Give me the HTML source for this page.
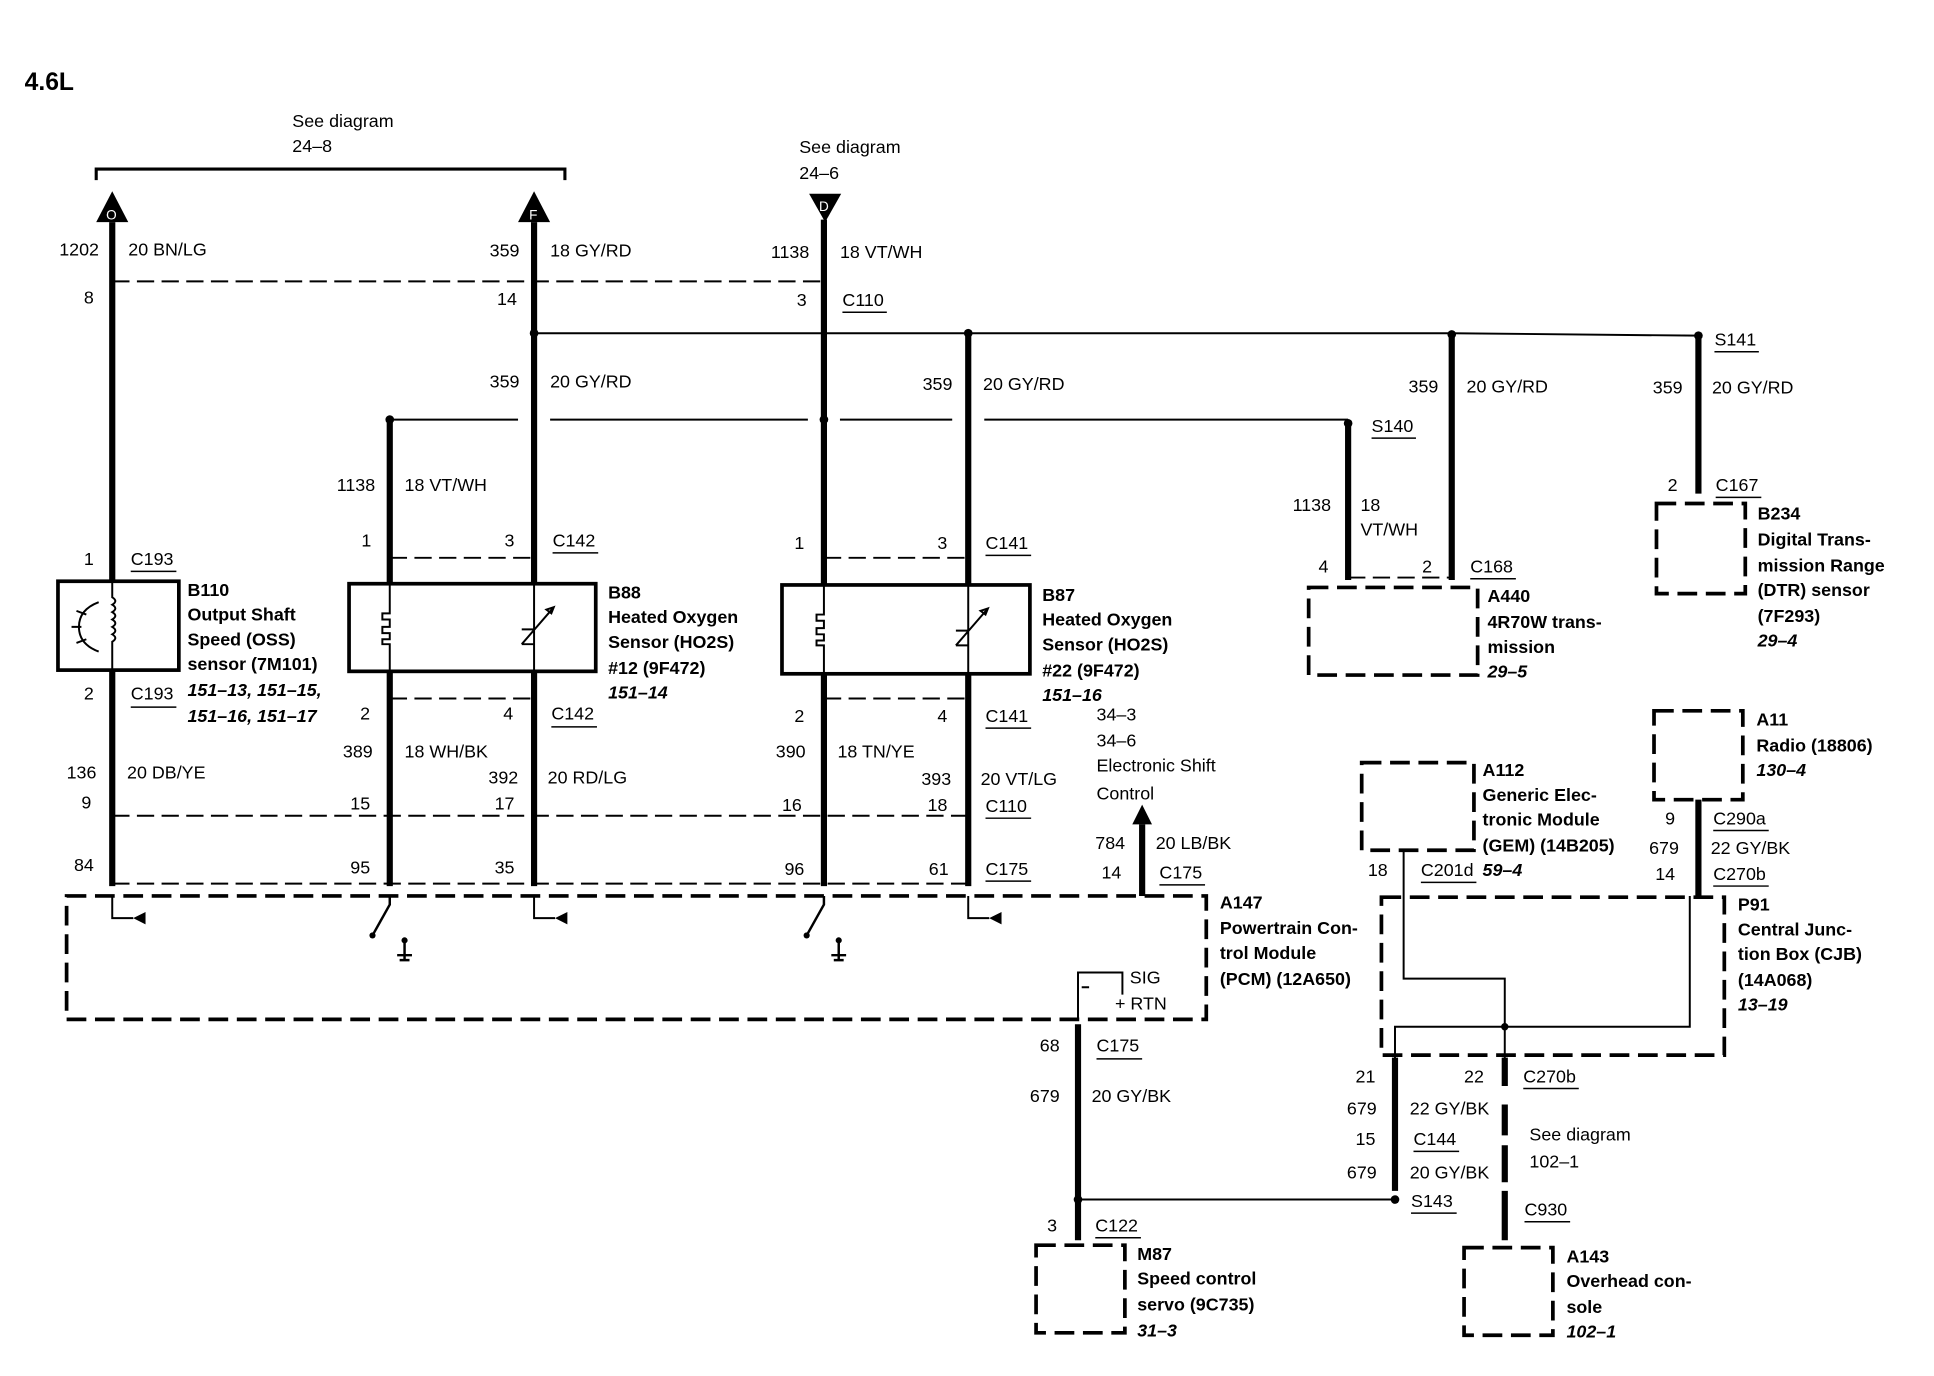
<!DOCTYPE html>
<html><head><meta charset="utf-8"><style>
html,body{margin:0;padding:0;background:#fff}
svg{display:block}
text{font-family:"Liberation Sans",sans-serif;font-size:14.5px;fill:#000}
.b{font-weight:bold}
.i{font-weight:bold;font-style:italic}
.w{stroke:#000;stroke-width:5;fill:none}
.t{stroke:#000;stroke-width:1.6;fill:none}
.d{stroke:#000;stroke-width:1.6;fill:none;stroke-dasharray:14 6}
.db{stroke:#000;stroke-width:3;fill:none;stroke-dasharray:16 7}
.u{stroke:#000;stroke-width:1.2}
</style></head><body>
<svg width="1934" height="1376" viewBox="0 0 1568 1115" preserveAspectRatio="none" xmlns="http://www.w3.org/2000/svg">
<text x="20" y="73" class="b" style="font-size:20px">4.6L</text>
<path class="t" d="M78 146 V137 H458 V146" style="stroke-width:2.5"/>
<text x="237" y="103">See diagram</text><text x="237" y="123">24–8</text>
<text x="648" y="124">See diagram</text><text x="648" y="145">24–6</text>
<polygon points="91,155 78,180 104,180"/><text x="86" y="178" style="fill:#fff;font-size:11px">O</text>
<polygon points="433,155 420,180 446,180"/><text x="429" y="178" style="fill:#fff;font-size:11px">F</text>
<polygon points="656,157 682,157 669,180"/><text x="664" y="171" style="fill:#fff;font-size:11px">D</text>
<path class="w" d="M91 180 V471 M91 543 V718 M433 180 V473 M433 544 V718 M668 178 V474 M668 546 V718 M316 340 V473 M316 544 V718 M785 270 V474 M785 546 V718 M1093 343 V470 M1177 272 V470 M1377 272 V400"/>
<path class="t" d="M433 270 H1177 L1377 272 M316 340 H420 M446 340 H655 M681 340 H772 M798 340 H1093"/>
<circle cx="433" cy="270" r="3.5"/><circle cx="785" cy="270" r="3.5"/><circle cx="1177" cy="271" r="3.5"/><circle cx="1377" cy="272" r="3.5"/>
<circle cx="316" cy="340" r="3.5"/><circle cx="668" cy="340" r="3.5"/><circle cx="1093" cy="343" r="3.5"/>
<path class="d" d="M91 228 H668 M316 452 H433 M668 452 H785 M91 661 H785 M91 716 H785 M316 566 H433 M668 566 H785 M1093 468 H1177"/>
<text x="48" y="207">1202</text><text x="104" y="207">20 BN/LG</text>
<text x="397" y="208">359</text><text x="446" y="208">18 GY/RD</text>
<text x="625" y="209">1138</text><text x="681" y="209">18 VT/WH</text>
<text x="68" y="246">8</text><text x="403" y="247">14</text><text x="646" y="248">3</text>
<text x="683" y="248">C110</text><line class="u" x1="683" y1="253" x2="719" y2="253"/>
<text x="397" y="314">359</text><text x="446" y="314">20 GY/RD</text>
<text x="748" y="316">359</text><text x="797" y="316">20 GY/RD</text>
<text x="1142" y="318">359</text><text x="1189" y="318">20 GY/RD</text>
<text x="1340" y="319">359</text><text x="1388" y="319">20 GY/RD</text>
<text x="1390" y="280">S141</text><line class="u" x1="1390" y1="285" x2="1426" y2="285"/>
<text x="1112" y="350">S140</text><line class="u" x1="1112" y1="355" x2="1148" y2="355"/>
<text x="273" y="398">1138</text><text x="328" y="398">18 VT/WH</text>
<text x="1048" y="414">1138</text><text x="1103" y="414">18</text><text x="1103" y="434">VT/WH</text>
<text x="1069" y="464">4</text><text x="1153" y="464">2</text>
<text x="1192" y="464">C168</text><line class="u" x1="1192" y1="469" x2="1229" y2="469"/>
<text x="1352" y="398">2</text><text x="1391" y="398">C167</text><line class="u" x1="1391" y1="403" x2="1428" y2="403"/>
<text x="68" y="458">1</text><text x="106" y="458">C193</text><line class="u" x1="106" y1="463" x2="143" y2="463"/>
<rect x="47" y="471" width="98" height="72" class="t" style="stroke-width:3"/>
<path class="t" d="M91 471 V484 q5 3 0 6 q5 3 0 6 q5 3 0 6 q5 3 0 6 q5 3 0 6 q5 3 0 6 V543"/>
<path class="t" d="M80 488 q-16 6 -16 20 q0 14 16 20 M62 495 l8 3 M58 508 h8 M62 521 l8 -3"/>
<text x="152" y="483" class="b">B110</text><text x="152" y="503" class="b">Output Shaft</text>
<text x="152" y="523" class="b">Speed (OSS)</text><text x="152" y="543" class="b">sensor (7M101)</text>
<text x="152" y="564" class="i">151–13, 151–15,</text><text x="152" y="585" class="i">151–16, 151–17</text>
<text x="68" y="567">2</text><text x="106" y="567">C193</text><line class="u" x1="106" y1="573" x2="143" y2="573"/>
<text x="54" y="631">136</text><text x="103" y="631">20 DB/YE</text>
<text x="66" y="655">9</text><text x="60" y="706">84</text>
<text x="293" y="443">1</text><text x="409" y="443">3</text>
<text x="448" y="443">C142</text><line class="u" x1="448" y1="448" x2="485" y2="448"/>
<rect x="283" y="473" width="200" height="71" class="t" style="stroke-width:3"/>
<path class="t" d="M316 473 V497 h-6 v5 h6 v6 h-6 v5 h6 v5 h-6 v4 h6 V544 M433 473 V544 M423 522 l26 -30 M449 492 l-6 2 l4 3z M423 510 h10 M423 522 h10"/>
<text x="493" y="485" class="b">B88</text><text x="493" y="505" class="b">Heated Oxygen</text>
<text x="493" y="525" class="b">Sensor (HO2S)</text><text x="493" y="546" class="b">#12 (9F472)</text>
<text x="493" y="566" class="i">151–14</text>
<text x="292" y="583">2</text><text x="408" y="583">4</text>
<text x="447" y="583">C142</text><line class="u" x1="447" y1="589" x2="484" y2="589"/>
<text x="278" y="614">389</text><text x="328" y="614">18 WH/BK</text>
<text x="396" y="635">392</text><text x="444" y="635">20 RD/LG</text>
<text x="284" y="656">15</text><text x="401" y="656">17</text>
<text x="284" y="708">95</text><text x="401" y="708">35</text>
<text x="644" y="445">1</text><text x="760" y="445">3</text>
<text x="799" y="445">C141</text><line class="u" x1="799" y1="450" x2="836" y2="450"/>
<rect x="634" y="474" width="201" height="72" class="t" style="stroke-width:3"/>
<path class="t" d="M668 474 V498 h-6 v5 h6 v6 h-6 v5 h6 v5 h-6 v4 h6 V546 M785 474 V546 M775 523 l26 -30 M801 493 l-6 2 l4 3z M775 511 h10 M775 523 h10"/>
<text x="845" y="487" class="b">B87</text><text x="845" y="507" class="b">Heated Oxygen</text>
<text x="845" y="527" class="b">Sensor (HO2S)</text><text x="845" y="548" class="b">#22 (9F472)</text>
<text x="845" y="568" class="i">151–16</text>
<text x="644" y="585">2</text><text x="760" y="585">4</text>
<text x="799" y="585">C141</text><line class="u" x1="799" y1="590" x2="836" y2="590"/>
<text x="629" y="614">390</text><text x="679" y="614">18 TN/YE</text>
<text x="747" y="636">393</text><text x="795" y="636">20 VT/LG</text>
<text x="634" y="657">16</text><text x="752" y="657">18</text>
<text x="799" y="658">C110</text><line class="u" x1="799" y1="663" x2="836" y2="663"/>
<text x="636" y="709">96</text><text x="753" y="709">61</text>
<text x="799" y="709">C175</text><line class="u" x1="799" y1="714" x2="836" y2="714"/>
<text x="889" y="584">34–3</text><text x="889" y="605">34–6</text>
<text x="889" y="625">Electronic Shift</text><text x="889" y="648">Control</text>
<path class="w" d="M926 668 V726"/><polygon points="926,652 918,668 934,668"/>
<text x="888" y="688">784</text><text x="937" y="688">20 LB/BK</text>
<text x="893" y="712">14</text><text x="940" y="712">C175</text><line class="u" x1="940" y1="717" x2="977" y2="717"/>
<rect x="54" y="726" width="924" height="100" class="db"/>
<text x="989" y="736" class="b">A147</text><text x="989" y="757" class="b">Powertrain Con-</text>
<text x="989" y="777" class="b">trol Module</text><text x="989" y="798" class="b">(PCM) (12A650)</text>
<path class="t" d="M91 726 V744 H108 M433 726 V744 H450 M785 726 V744 H802"/>
<polygon points="108,744 118,739 118,749"/><polygon points="450,744 460,739 460,749"/><polygon points="802,744 812,739 812,749"/>
<path class="t" d="M316 726 V733 L302 758 M668 726 V733 L654 758" style="stroke-width:2"/>
<circle cx="302" cy="758" r="2.5"/><circle cx="654" cy="758" r="2.5"/>
<path class="t" d="M328 762 V778 M322 774 h12 M324 778 h8 M680 762 V778 M674 774 h12 M676 778 h8" style="stroke-width:2"/>
<circle cx="328" cy="762" r="2.5"/><circle cx="680" cy="762" r="2.5"/>
<path class="t" d="M874 826 V788 H910 V806 M877 800 h6"/>
<text x="916" y="797">SIG</text><text x="904" y="818">+ RTN</text>
<path class="w" d="M874 830 V972"/>
<text x="843" y="852">68</text><text x="889" y="852">C175</text><line class="u" x1="889" y1="858" x2="926" y2="858"/>
<text x="835" y="893">679</text><text x="885" y="893">20 GY/BK</text>
<path class="t" d="M874 972 H1131"/><circle cx="874" cy="972" r="3.5"/><circle cx="1131" cy="972" r="3.5"/>
<path class="w" d="M874 972 V1005"/>
<text x="849" y="998">3</text><text x="888" y="998">C122</text><line class="u" x1="888" y1="1003" x2="925" y2="1003"/>
<rect x="840" y="1009" width="72" height="71" class="db"/>
<text x="922" y="1021" class="b">M87</text><text x="922" y="1041" class="b">Speed control</text>
<text x="922" y="1062" class="b">servo (9C735)</text><text x="922" y="1083" class="i">31–3</text>
<rect x="1061" y="476" width="137" height="71" class="db"/>
<text x="1206" y="488" class="b">A440</text><text x="1206" y="509" class="b">4R70W trans-</text>
<text x="1206" y="529" class="b">mission</text><text x="1206" y="549" class="i">29–5</text>
<rect x="1343" y="408" width="72" height="73" class="db"/>
<text x="1425" y="421" class="b">B234</text><text x="1425" y="442" class="b">Digital Trans-</text>
<text x="1425" y="463" class="b">mission Range</text><text x="1425" y="483" class="b">(DTR) sensor</text>
<text x="1425" y="504" class="b">(7F293)</text><text x="1425" y="524" class="i">29–4</text>
<rect x="1341" y="576" width="72" height="72" class="db"/>
<text x="1424" y="588" class="b">A11</text><text x="1424" y="609" class="b">Radio (18806)</text><text x="1424" y="629" class="i">130–4</text>
<path class="w" d="M1377 648 V726"/>
<text x="1350" y="668">9</text><text x="1389" y="668">C290a</text><line class="u" x1="1389" y1="673" x2="1434" y2="673"/>
<text x="1337" y="692">679</text><text x="1387" y="692">22 GY/BK</text>
<text x="1342" y="713">14</text><text x="1389" y="713">C270b</text><line class="u" x1="1389" y1="718" x2="1434" y2="718"/>
<rect x="1104" y="618" width="91" height="71" class="db"/>
<text x="1202" y="629" class="b">A112</text><text x="1202" y="649" class="b">Generic Elec-</text>
<text x="1202" y="669" class="b">tronic Module</text><text x="1202" y="690" class="b">(GEM) (14B205)</text>
<text x="1202" y="710" class="i">59–4</text>
<text x="1109" y="710">18</text><text x="1152" y="710">C201d</text><line class="u" x1="1152" y1="715" x2="1197" y2="715"/>
<rect x="1120" y="727" width="278" height="128" class="db"/>
<text x="1409" y="738" class="b">P91</text><text x="1409" y="758" class="b">Central Junc-</text>
<text x="1409" y="778" class="b">tion Box (CJB)</text><text x="1409" y="799" class="b">(14A068)</text>
<text x="1409" y="819" class="i">13–19</text>
<path class="t" d="M1138 690 V793 H1220 V860 M1131 860 V832 H1370 V726"/>
<circle cx="1220" cy="832" r="3"/>
<path class="w" d="M1131 857 V965"/>
<path class="w" d="M1220 857 V880 M1220 895 V920 M1220 928 V958 M1220 965 V1005"/>
<text x="1099" y="877">21</text><text x="1187" y="877">22</text>
<text x="1235" y="877">C270b</text><line class="u" x1="1235" y1="882" x2="1280" y2="882"/>
<text x="1092" y="903">679</text><text x="1143" y="903">22 GY/BK</text>
<text x="1099" y="928">15</text><text x="1146" y="928">C144</text><line class="u" x1="1146" y1="933" x2="1183" y2="933"/>
<text x="1240" y="924">See diagram</text><text x="1240" y="946">102–1</text>
<text x="1092" y="955">679</text><text x="1143" y="955">20 GY/BK</text>
<text x="1144" y="978">S143</text><line class="u" x1="1144" y1="983" x2="1181" y2="983"/>
<text x="1236" y="985">C930</text><line class="u" x1="1236" y1="990" x2="1273" y2="990"/>
<rect x="1187" y="1011" width="72" height="71" class="db"/>
<text x="1270" y="1023" class="b">A143</text><text x="1270" y="1043" class="b">Overhead con-</text>
<text x="1270" y="1064" class="b">sole</text><text x="1270" y="1084" class="i">102–1</text>
</svg>
</body></html>
